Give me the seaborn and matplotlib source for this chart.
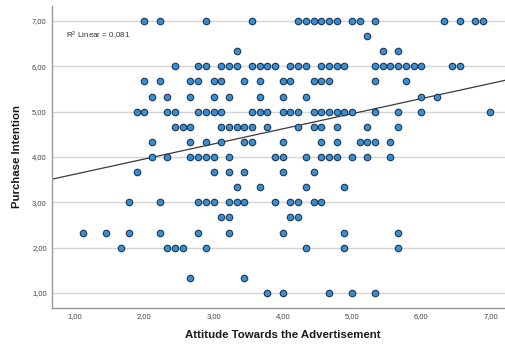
import numpy as np
import pandas as pd
import matplotlib
matplotlib.use("Agg")
import matplotlib.pyplot as plt
from matplotlib.ticker import FuncFormatter
import seaborn as sns

# Attitude scores are means of nine items (steps of 1/9), purchase intention
# means of three items (steps of 1/3). Each row: intention level (in thirds)
# and the attitude step numbers k of respondents at that level (attitude = 1 + k/9).
intention_thirds = [21, 20, 19, 18, 17, 16, 15, 14, 13, 12, 11, 10, 9, 8, 7, 6, 4, 3]
attitude_steps = [
    [9, 11, 17, 23, 29, 30, 31, 32, 33, 34, 36, 37, 39, 48, 50, 52, 53],
    [38],
    [21, 40, 42],
    [13, 16, 17, 19, 20, 21, 23, 24, 25, 26, 28, 29, 30, 32, 33, 34, 35,
     39, 40, 41, 42, 43, 44, 45, 49, 50],
    [9, 11, 15, 16, 18, 19, 22, 24, 27, 28, 31, 32, 33, 39, 43],
    [10, 12, 15, 18, 20, 24, 27, 30, 45, 47],
    [8, 9, 12, 13, 16, 17, 18, 19, 23, 24, 25, 27, 28, 29, 31, 32, 33, 34,
     35, 36, 39, 42, 45, 54],
    [13, 14, 15, 19, 20, 21, 22, 23, 25, 29, 31, 32, 34, 38, 42],
    [10, 15, 17, 19, 22, 23, 27, 32, 34, 37, 38, 39, 41],
    [10, 12, 15, 16, 17, 18, 20, 26, 27, 30, 32, 33, 34, 36, 38, 41],
    [8, 18, 20, 22, 27, 31],
    [21, 24, 30, 35],
    [7, 11, 16, 17, 18, 20, 21, 22, 26, 28, 29, 31, 32],
    [19, 20, 28, 29],
    [1, 4, 7, 11, 16, 20, 27, 35, 42],
    [6, 12, 13, 14, 17, 30, 35, 42],
    [15, 22],
    [25, 27, 33, 36, 39],
]
r2_text = "0,081"
x_ticks = [1, 2, 3, 4, 5, 6, 7]
y_ticks = [1, 2, 3, 4, 5, 6, 7]

rows = []
for level, steps in zip(intention_thirds, attitude_steps):
    for k in steps:
        rows.append({"Attitude": 1 + k / 9, "Intention": level / 3})
df = pd.DataFrame(rows)

sns.set_style("white")
plt.rcParams["font.family"] = ["Liberation Sans", "DejaVu Sans"]
plt.rcParams["mathtext.default"] = "regular"

fig = plt.figure(figsize=(5.05, 3.47), dpi=100)
ax = fig.add_axes([0.1024, 0.1133, 0.8976, 0.8694])
ax.set_xlim(0.663, 7.21)
ax.set_ylim(0.675, 7.33)

ax.set_yticks(y_ticks)
ax.yaxis.grid(True, color="#d4d4d4", linewidth=1.0)
ax.xaxis.grid(False)
ax.set_axisbelow(True)

sns.regplot(data=df, x="Attitude", y="Intention", scatter=False, ci=None,
            truncate=False, ax=ax,
            line_kws={"color": "#3a3a3a", "linewidth": 0.9, "zorder": 2})
sns.scatterplot(data=df, x="Attitude", y="Intention", ax=ax, s=22,
                color="#3b8fd0", edgecolor="#1d3857", linewidth=0.8, zorder=3)

ax.set_xticks(x_ticks)
fmt = FuncFormatter(lambda v, _: f"{v:.2f}".replace(".", ","))
ax.xaxis.set_major_formatter(fmt)
ax.yaxis.set_major_formatter(fmt)
ax.tick_params(axis="both", length=0, labelsize=5.5, labelcolor="#444444", pad=3.6)

for side in ["top", "right"]:
    ax.spines[side].set_visible(False)
for side in ["left", "bottom"]:
    ax.spines[side].set_color("#9a9a9a")
    ax.spines[side].set_linewidth(1.0)

ax.set_xlabel("Attitude Towards the Advertisement", fontsize=8.2,
              fontweight="bold", color="#1a1a1a")
ax.set_ylabel("Purchase Intention", fontsize=8.2, fontweight="bold", color="#1a1a1a")
ax.xaxis.set_label_coords(0.51, -0.075)
ax.yaxis.set_label_coords(-0.066, 0.5)

ax.text(66 / 505, 1 - 36 / 347, "R$^2$ Linear = " + r2_text, transform=fig.transFigure,
        fontsize=5.8, color="#333333", va="center", ha="left")

fig.savefig("out.png", dpi=100)
